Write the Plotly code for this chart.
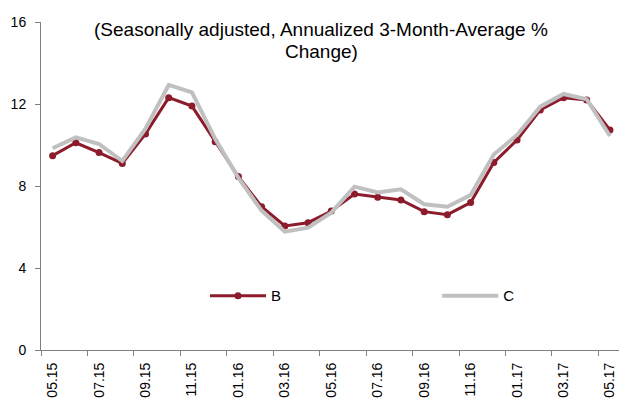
import plotly.graph_objects as go

months = ["05.15", "06.15", "07.15", "08.15", "09.15", "10.15", "11.15", "12.15",
          "01.16", "02.16", "03.16", "04.16", "05.16", "06.16", "07.16", "08.16",
          "09.16", "10.16", "11.16", "12.16", "01.17", "02.17", "03.17", "04.17", "05.17"]
series_b = [9.48, 10.11, 9.63, 9.10, 10.54, 12.31, 11.90, 10.16, 8.46, 6.99, 6.05, 6.21,
            6.78, 7.61, 7.45, 7.32, 6.75, 6.60, 7.19, 9.15, 10.24, 11.71, 12.31, 12.20, 10.73]
series_c = [9.84, 10.37, 10.05, 9.22, 10.80, 12.93, 12.57, 10.30, 8.40, 6.80, 5.77, 5.97,
            6.70, 7.97, 7.69, 7.84, 7.11, 6.99, 7.56, 9.54, 10.49, 11.87, 12.49, 12.23, 10.44]
title_lines = ["(Seasonally adjusted, Annualized 3-Month-Average %", "Change)"]
y_ticks = [0, 4, 8, 12, 16]

x = list(range(len(months)))
RED = "#8C1C2C"
GREY = "#C0C0C0"
AXIS = "#808080"
FONT = "Liberation Sans, Arial, sans-serif"

fig = go.Figure()
fig.add_trace(go.Scatter(x=x, y=series_b, name="B", mode="lines+markers",
                         line=dict(color=RED, width=3), marker=dict(size=7, color=RED),
                         legend="legend", cliponaxis=False))
fig.add_trace(go.Scatter(x=x, y=series_c, name="C", mode="lines",
                         line=dict(color=GREY, width=4), legend="legend2", cliponaxis=False))

fig.add_annotation(text=title_lines[0], xref="paper", yref="paper", x=0.485, y=1.0,
                   yanchor="middle", xanchor="center", showarrow=False,
                   yshift=-7, font=dict(size=19, color="#000000", family=FONT))
fig.add_annotation(text=title_lines[1], xref="paper", yref="paper", x=0.485, y=1.0,
                   yanchor="middle", xanchor="center", showarrow=False,
                   yshift=-29, font=dict(size=19, color="#000000", family=FONT))

legend_common = dict(orientation="h", xanchor="left", y=0.165, yanchor="middle",
                     bgcolor="rgba(0,0,0,0)", itemwidth=56, font=dict(size=15, family=FONT))

fig.update_layout(
    width=619, height=400,
    margin=dict(l=41, r=0, t=22, b=50),
    paper_bgcolor="white", plot_bgcolor="white",
    font=dict(family=FONT, size=14, color="#000000"),
    showlegend=True,
    legend=dict(x=0.2837, **legend_common),
    legend2=dict(x=0.6855, **legend_common),
    xaxis=dict(range=[-0.5, 24.39], tickmode="array", tickvals=x[::2], ticktext=months[::2],
               tickangle=-90, ticks="", showgrid=False, zeroline=False,
               showline=True, linecolor=AXIS, linewidth=1, ticklabeloverflow="allow",
               ticklabelstandoff=6, tickfont=dict(size=14, family=FONT),
               minor=dict(tickmode="array", tickvals=[v - 0.5 for v in x[::2]],
                          ticks="outside", ticklen=5, tickcolor=AXIS, tickwidth=1,
                          showgrid=False)),
    yaxis=dict(range=[0, 16], tickmode="array", tickvals=y_ticks, ticks="outside",
               ticklen=5, tickcolor=AXIS, tickwidth=1, showgrid=False, zeroline=False,
               showline=True, linecolor=AXIS, linewidth=1, ticklabelstandoff=6,
               tickfont=dict(size=14, family=FONT)),
)

fig.write_html("out.html", config={"displayModeBar": False},
               post_script="document.body.style.margin='0';")
